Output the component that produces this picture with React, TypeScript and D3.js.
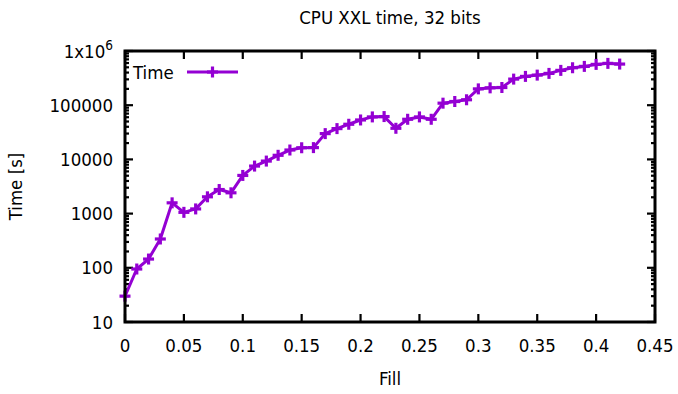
import React from 'react'
import * as d3 from 'd3'

// Fill fraction vs CPU time
const fill = [
  0, 0.01, 0.02, 0.03, 0.04, 0.05, 0.06, 0.07, 0.08, 0.09, 0.1, 0.11, 0.12, 0.13, 0.14, 0.15,
  0.16, 0.17, 0.18, 0.19, 0.2, 0.21, 0.22, 0.23, 0.24, 0.25, 0.26, 0.27, 0.28, 0.29, 0.3, 0.31,
  0.32, 0.33, 0.34, 0.35, 0.36, 0.37, 0.38, 0.39, 0.4, 0.41, 0.42,
]
const timeSec = [
  30, 95, 145, 340, 1580, 1055, 1220, 2040, 2780, 2420, 5060, 7530, 9310, 11900, 14900, 16400,
  16500, 29900, 37000, 44500, 53400, 60800, 61700, 37500, 55000, 60800, 55000, 109000, 117000,
  126000, 200000, 209000, 212000, 303000, 340000, 359000, 386000, 439000, 491000, 520000, 566000,
  591000, 574000,
]
const xTicks = [0, 0.05, 0.1, 0.15, 0.2, 0.25, 0.3, 0.35, 0.4, 0.45]
const yTicks = [10, 100, 1000, 10000, 100000, 1000000]

const W = 678
const H = 394
const margin = { top: 51, right: 23, bottom: 72, left: 125 }
const font = "'DejaVu Sans Condensed', 'DejaVu Sans', sans-serif"
const fs = 18.5
const purple = '#9400d3'

export default function App() {
  const x = d3.scaleLinear().domain([0, 0.45]).range([margin.left, W - margin.right])
  const y = d3.scaleLog().domain([10, 1e6]).range([H - margin.bottom, margin.top])
  const x0 = x.range()[0]
  const x1 = x.range()[1]
  const yb = y.range()[0]
  const yt = y.range()[1]

  const pts = fill.map((f, i) => [f, timeSec[i]] as [number, number])
  const line = d3
    .line<[number, number]>()
    .x(d => x(d[0]))
    .y(d => y(d[1]))

  // minor ticks 2..9 per decade
  const minor: number[] = []
  for (let k = 1; k < 6; k++) for (let m = 2; m < 10; m++) minor.push(m * Math.pow(10, k))

  const plus = (cx: number, cy: number, key: string | number, s = 5.5) => (
    <g key={key} stroke={purple} strokeWidth={3.2}>
      <line x1={cx - s} x2={cx + s} y1={cy} y2={cy} />
      <line x1={cx} x2={cx} y1={cy - s} y2={cy + s} />
    </g>
  )

  const legY = 72

  return (
    <div style={{ position: 'fixed', left: 0, top: 0, background: '#fff' }}>
      <svg width={W} height={H} style={{ display: 'block', fontFamily: font }}>
        <rect width={W} height={H} fill="#fff" />
        <text x={(x0 + x1) / 2} y={24} textAnchor="middle" fontSize={fs} fill="#000">
          CPU XXL time, 32 bits
        </text>

        {/* ticks */}
        <g stroke="#000" strokeWidth={2.2}>
          {xTicks.map(t => (
            <g key={'xt' + t}>
              <line x1={x(t)} x2={x(t)} y1={yb} y2={yb - 8} />
              <line x1={x(t)} x2={x(t)} y1={yt} y2={yt + 8} />
            </g>
          ))}
          {yTicks.map(t => (
            <g key={'yt' + t}>
              <line x1={x0} x2={x0 + 8} y1={y(t)} y2={y(t)} />
              <line x1={x1} x2={x1 - 8} y1={y(t)} y2={y(t)} />
            </g>
          ))}
          {minor.map(t => (
            <g key={'ym' + t}>
              <line x1={x0} x2={x0 + 4} y1={y(t)} y2={y(t)} />
              <line x1={x1} x2={x1 - 4} y1={y(t)} y2={y(t)} />
            </g>
          ))}
        </g>

        {/* tick labels */}
        {xTicks.map(t => (
          <text key={'xl' + t} x={x(t)} y={yb + 30} textAnchor="middle" fontSize={fs}>
            {String(t)}
          </text>
        ))}
        {yTicks.map(t => (
          <text key={'yl' + t} x={x0 - 12} y={y(t) + 6.5} textAnchor="end" fontSize={fs}>
            {t === 1e6 ? (
              <>
                1x10<tspan dy={-8} fontSize={13.5}>6</tspan>
              </>
            ) : (
              String(t)
            )}
          </text>
        ))}

        {/* axis titles */}
        <text x={(x0 + x1) / 2} y={385} textAnchor="middle" fontSize={fs}>
          Fill
        </text>
        <text
          transform={`translate(22, ${(yb + yt) / 2}) rotate(-90)`}
          textAnchor="middle"
          fontSize={fs}
        >
          Time [s]
        </text>

        {/* series */}
        <path d={line(pts) || ''} fill="none" stroke={purple} strokeWidth={3} strokeLinejoin="round" />
        {pts.map((d, i) => plus(x(d[0]), y(d[1]), i))}

        {/* legend */}
        <text x={133} y={legY + 6.5} fontSize={fs}>
          Time
        </text>
        <line x1={187} x2={238} y1={legY} y2={legY} stroke={purple} strokeWidth={3} />
        {plus(212.5, legY, 'leg')}

        {/* border */}
        <rect x={x0} y={yt} width={x1 - x0} height={yb - yt} fill="none" stroke="#000" strokeWidth={3} />
      </svg>
    </div>
  )
}
